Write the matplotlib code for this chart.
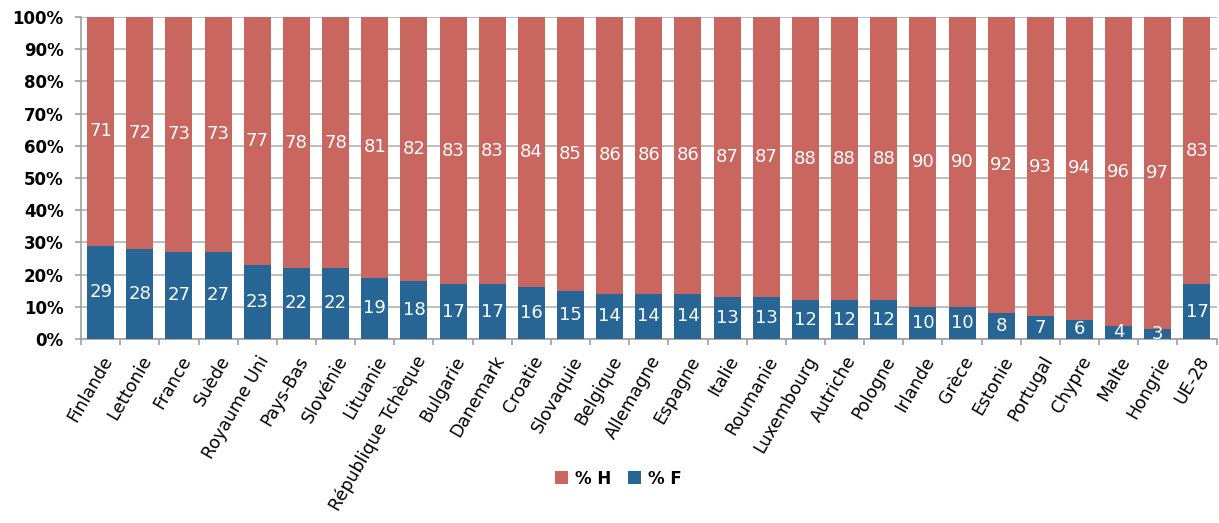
import matplotlib
matplotlib.use("Agg")
import matplotlib.pyplot as plt
import numpy as np

countries = ["Finlande", "Lettonie", "France", "Suède", "Royaume Uni", "Pays-Bas",
             "Slovénie", "Lituanie", "République Tchèque", "Bulgarie", "Danemark",
             "Croatie", "Slovaquie", "Belgique", "Allemagne", "Espagne", "Italie",
             "Roumanie", "Luxembourg", "Autriche", "Pologne", "Irlande", "Grèce",
             "Estonie", "Portugal", "Chypre", "Malte", "Hongrie", "UE-28"]
pct_f = [29, 28, 27, 27, 23, 22, 22, 19, 18, 17, 17, 16, 15, 14, 14, 14, 13,
         13, 12, 12, 12, 10, 10, 8, 7, 6, 4, 3, 17]
pct_h = [71, 72, 73, 73, 77, 78, 78, 81, 82, 83, 83, 84, 85, 86, 86, 86, 87,
         87, 88, 88, 88, 90, 90, 92, 93, 94, 96, 97, 83]

RED = "#C8665F"
BLUE = "#276594"

plt.rcParams['font.family'] = ['DejaVu Sans']

fig = plt.figure(figsize=(12.19, 5.23), dpi=100)
ax = fig.add_axes([0.0665, 0.352, 0.9315, 0.6155])

x = np.arange(len(countries))
w = 0.69
bf = ax.bar(x, pct_f, width=w, color=BLUE, label="% F", zorder=3)
bh = ax.bar(x, pct_h, width=w, bottom=pct_f, color=RED, label="% H", zorder=3)

for xi, f, h in zip(x, pct_f, pct_h):
    ax.text(xi, f / 2, str(f), ha="center", va="center", color="white",
            fontsize=13, zorder=4)
    ax.text(xi, f + h / 2, str(h), ha="center", va="center", color="white",
            fontsize=13, zorder=4)

ax.set_xlim(-0.5, len(countries) - 0.5)
ax.set_ylim(0, 100)
ax.set_yticks(np.arange(0, 101, 10))
ax.set_yticklabels([f"{v}%" for v in range(0, 101, 10)], fontsize=12, fontweight="bold")
ax.yaxis.grid(True, color="#B3B3B3", linewidth=1.2, zorder=0)

ax.set_xticks(x)
ax.set_xticklabels(countries, rotation=60, ha="right", rotation_mode="anchor",
                   fontsize=12.5)
ax.tick_params(axis="x", length=0, pad=10)
ax.set_xticks(np.arange(-0.5, len(countries), 1), minor=True)
ax.tick_params(axis="x", which="minor", length=4.5, color="#A0A0A0", width=1.2)
ax.tick_params(axis="y", length=4.5, color="#A0A0A0", width=1.2, pad=8)

for s in ["top", "right"]:
    ax.spines[s].set_visible(False)
for s in ["left", "bottom"]:
    ax.spines[s].set_color("#A0A0A0")
    ax.spines[s].set_linewidth(1.2)

handles = [bh, bf]
leg = fig.legend(handles, ["% H", "% F"], loc="center", bbox_to_anchor=(0.507, 0.085),
                 ncol=2, frameon=False, handlelength=0.8, handleheight=0.8,
                 handletextpad=0.4, columnspacing=1.0, prop={"weight": "bold", "size": 12})

fig.savefig("out.png", dpi=100)
